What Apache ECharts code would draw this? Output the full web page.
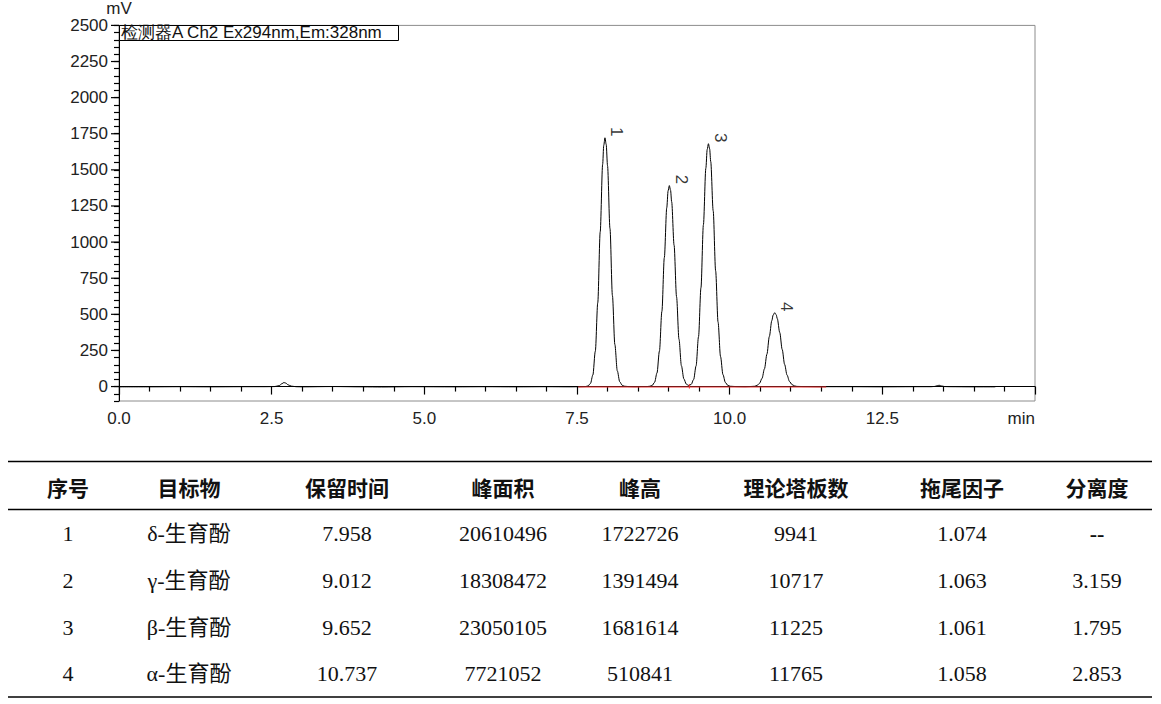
<!DOCTYPE html>
<html>
<head>
<meta charset="utf-8">
<title>生育酚色谱图</title>
<script src="https://cdn.jsdelivr.net/npm/echarts@6/dist/echarts.min.js"></script>
<style>
    html, body { margin: 0; padding: 0; background: #fff; }
    #psLine { width: 1161px; height: 704px; }
</style>
</head>
<body>
<div id="psLine"></div>
<script>
// 色谱信号 [保留时间 min, 响应 mV]
var signal = [
    [0.00, -2], [0.50, -2], [1.00, -1], [1.50, -2], [2.00, -1], [2.40, -1],
    [2.55, 0], [2.62, 6], [2.67, 20], [2.70, 28], [2.73, 24], [2.77, 12], [2.82, 3], [2.90, -1],
    [3.00, -2], [3.50, 0], [4.00, -2], [4.30, -3], [4.80, -1], [5.50, -2], [6.00, -1],
    [6.50, -2], [7.00, -1], [7.40, -2], [7.55, -1],
    // 峰1
    [7.64, 0], [7.68, 4], [7.72, 21], [7.76, 80], [7.80, 245], [7.84, 580], [7.88, 1071],
    [7.92, 1538], [7.938, 1669], [7.958, 1722], [7.978, 1676], [8.00, 1529], [8.04, 1094],
    [8.08, 630], [8.12, 291], [8.16, 109], [8.20, 33], [8.24, 9], [8.28, 2], [8.34, 0],
    [8.45, -1], [8.55, 0],
    // 峰2
    [8.65, 0], [8.69, 2], [8.73, 7], [8.77, 29], [8.81, 94], [8.85, 246], [8.89, 520],
    [8.93, 892], [8.97, 1238], [8.992, 1355], [9.012, 1391], [9.032, 1359], [9.05, 1280],
    [9.09, 978], [9.13, 622], [9.17, 328], [9.21, 144], [9.25, 53], [9.29, 17], [9.33, 7],
    // 峰3
    [9.37, 15], [9.41, 49], [9.45, 143], [9.49, 345], [9.53, 684], [9.57, 1120], [9.61, 1511],
    [9.632, 1641], [9.652, 1681], [9.672, 1646], [9.69, 1557], [9.73, 1217], [9.77, 802],
    [9.81, 446], [9.85, 209], [9.89, 83], [9.93, 28], [9.97, 8], [10.01, 2], [10.10, 0],
    [10.25, -1], [10.33, 0],
    // 峰4
    [10.37, 1], [10.41, 2], [10.45, 8], [10.49, 23], [10.53, 57], [10.57, 123], [10.61, 224],
    [10.65, 347], [10.69, 456], [10.712, 495], [10.737, 511], [10.762, 497], [10.78, 470],
    [10.82, 374], [10.86, 257], [10.90, 153], [10.94, 79], [10.98, 35], [11.02, 14],
    [11.06, 5], [11.10, 1], [11.20, 0], [11.50, -1], [12.00, -1], [12.50, -2], [13.00, -1],
    [13.30, -1], [13.36, 1], [13.40, 6], [13.43, 9], [13.47, 4], [13.52, 0], [13.60, -1],
    [14.00, -2], [14.35, -2]
];

// 积分基线（红色）
var baseLine = [[7.52, -3], [11.58, -3]];
var valleyDrop = [[9.34, -14], [9.34, 18]];

// 峰标记
var peakNos = ['1', '2', '3', '4'];
var peakTimes = [7.958, 9.012, 9.652, 10.737];
var peakTops = [1722, 1391, 1681, 511];

// 坐标轴刻度
var xTicks = [0, 2.5, 5, 7.5, 10, 12.5, 15];
var yTicks = [0, 250, 500, 750, 1000, 1250, 1500, 1750, 2000, 2250, 2500];

var detectorName = '检测器A Ch2 Ex294nm,Em:328nm';

// 表格数据
var tableHeader = ['序号', '目标物', '保留时间', '峰面积', '峰高', '理论塔板数', '拖尾因子', '分离度'];
var compounds = ['δ-生育酚', 'γ-生育酚', 'β-生育酚', 'α-生育酚'];
var retTimes = ['7.958', '9.012', '9.652', '10.737'];
var peakAreas = ['20610496', '18308472', '23050105', '7721052'];
var peakHeights = ['1722726', '1391494', '1681614', '510841'];
var plateNums = ['9941', '10717', '11225', '11765'];
var tailings = ['1.074', '1.063', '1.061', '1.058'];
var resolutions = ['--', '3.159', '1.795', '2.853'];

var axisFont = 'Arial, "Liberation Sans", sans-serif';
var colX = [68, 189, 347, 503, 640, 796, 962, 1097];
var rowY = [533, 580, 627, 673];

var graphics = [];
// 检测器图例框
graphics.push({
    type: 'rect', left: 119, top: 25, z: 10,
    shape: { width: 279, height: 15 },
    style: { fill: '#fff', stroke: '#000', lineWidth: 1 }
});
graphics.push({
    type: 'text', left: 121, top: 24, z: 11,
    style: { text: detectorName, font: '17px ' + axisFont, fill: '#111' }
});
// 表格横线
[461.5, 509.5, 697].forEach(function (y) {
    graphics.push({
        type: 'line',
        shape: { x1: 8, y1: y, x2: 1152, y2: y },
        style: { stroke: '#000', lineWidth: 1.5 }
    });
});
tableHeader.forEach(function (h, i) {
    graphics.push({
        type: 'text', x: colX[i], y: 487,
        style: {
            text: h, fill: '#111', align: 'center', verticalAlign: 'middle',
            font: 'bold 21px "Noto Sans CJK SC", sans-serif'
        }
    });
});
var bodyCols = [peakNos, compounds, retTimes, peakAreas, peakHeights, plateNums, tailings, resolutions];
bodyCols.forEach(function (col, i) {
    col.forEach(function (txt, r) {
        graphics.push({
            type: 'text', x: colX[i], y: rowY[r],
            style: {
                text: txt, fill: '#111', align: 'center', verticalAlign: 'middle',
                font: (i === 7 && r === 0 ? 'bold ' : '') + '22px "Liberation Serif", "Times New Roman", "Noto Sans CJK SC", serif'
            }
        });
    });
});

var myChart = echarts.init(document.getElementById('psLine'), null, { renderer: 'svg' });

var option = {
    animation: false,
    backgroundColor: '#fff',
    grid: {
        left: 119, right: 126, top: 25, bottom: 303,
        show: true, borderColor: '#8c8c8c', borderWidth: 1
    },
    xAxis: {
        type: 'value', min: 0, max: 15, interval: 2.5,
        axisLine: { lineStyle: { color: '#000', width: 1 } },
        axisTick: { length: 8, lineStyle: { color: '#000', width: 1.2 } },
        minorTick: { show: true, splitNumber: 5, length: 5, lineStyle: { color: '#000', width: 1.2 } },
        splitLine: { show: false },
        axisLabel: {
            margin: 9, fontSize: 17, fontFamily: axisFont, color: '#222',
            alignMaxLabel: 'right',
            formatter: function (val) {
                if (xTicks.indexOf(val) < 0) return '';
                return val === 15 ? 'min' : val.toFixed(1);
            }
        }
    },
    yAxis: {
        // 每50 mV一个小刻度，只在250的倍数处标数字
        type: 'value', min: -100, max: 2500, interval: 50,
        name: 'mV', nameLocation: 'end', nameGap: 2,
        nameTextStyle: { fontSize: 17, fontFamily: axisFont, color: '#222' },
        axisLine: { show: true, lineStyle: { color: '#000', width: 1 } },
        axisTick: { show: true, length: 5, lineStyle: { color: '#000', width: 1.2 } },
        axisLabel: {
            margin: 11, fontSize: 17, fontFamily: axisFont, color: '#222',
            formatter: function (val) { return yTicks.indexOf(val) < 0 ? '' : String(val); }
        },
        splitLine: { show: false }
    },
    graphic: graphics,
    series: [{
        type: 'line', name: 'signal', data: signal,
        showSymbol: false, smooth: 0.3, smoothMonotone: 'x',
        lineStyle: { color: '#000', width: 1 }, z: 3
    }, {
        type: 'line', name: 'baseline', data: baseLine,
        showSymbol: false, lineStyle: { color: '#f03030', width: 1 }, z: 5
    }, {
        type: 'line', name: 'drop', data: valleyDrop,
        showSymbol: false, lineStyle: { color: '#f03030', width: 1 }, z: 5
    }, {
        // y轴大刻度（加长）
        type: 'custom', name: 'majorTicks', silent: true, clip: false,
        data: yTicks.map(function (v) { return [0, v]; }),
        encode: { x: 0, y: 1 },
        renderItem: function (params, api) {
            var p = api.coord([0, api.value(1)]);
            return {
                type: 'line',
                shape: { x1: p[0] - 8, y1: p[1], x2: p[0], y2: p[1] },
                style: { stroke: '#000', lineWidth: 1.2 }
            };
        },
        z: 6
    }, {
        type: 'scatter', name: 'peaks', symbolSize: 0,
        data: peakTimes.map(function (t, i) { return [t, peakTops[i]]; }),
        label: {
            show: true, position: 'inside', rotate: -90, offset: [-6, -12],
            align: 'center', verticalAlign: 'middle',
            fontSize: 17, fontFamily: axisFont, color: '#000',
            formatter: function (p) { return peakNos[p.dataIndex]; }
        },
        z: 6
    }]
};

myChart.setOption(option, true);

window.onresize = function () {
    setTimeout(function () { myChart.resize(); }, 50);
};
</script>
</body>
</html>
